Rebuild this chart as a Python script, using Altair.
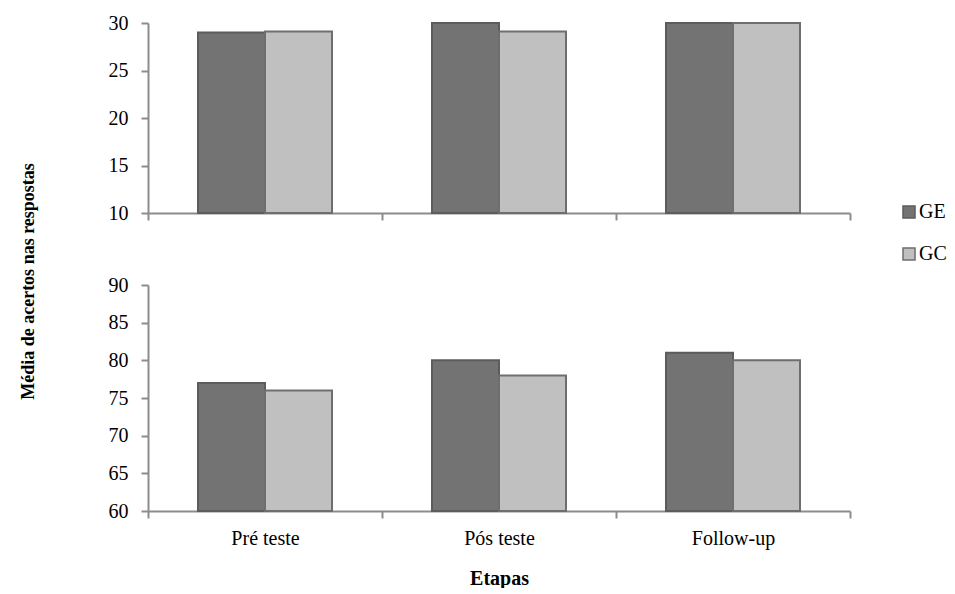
import altair as alt
import pandas as pd

etapas = ["Pré teste", "Pós teste", "Follow-up"]
grupos = ["GE", "GC"]
top_ge = [29, 30, 30]
top_gc = [29.1, 29.1, 30]
bot_ge = [77, 80, 81]
bot_gc = [76, 78, 80]

def make_df(ge, gc):
    rows = []
    for i, e in enumerate(etapas):
        rows.append({"Etapa": e, "Grupo": "GE", "valor": ge[i]})
        rows.append({"Etapa": e, "Grupo": "GC", "valor": gc[i]})
    return pd.DataFrame(rows)

df_top = make_df(top_ge, top_gc)
df_bot = make_df(bot_ge, bot_gc)

FONT = "Liberation Serif"
AX = "#8c8c8c"
FS = 20

color_scale = alt.Scale(domain=grupos, range=["#737373", "#c0c0c0"])
stroke_scale = alt.Scale(domain=grupos, range=["#5c5c5c", "#6e6e6e"])
xscale = alt.Scale(paddingInner=0, paddingOuter=0)
offscale = alt.Scale(paddingInner=0, paddingOuter=0.746)

def panel(df, dom, base, h, show_labels, show_legend, ytitle):
    x_axis = alt.Axis(
        title="Etapas" if show_labels else None,
        labels=show_labels, tickBand="extent", domainColor=AX, tickColor=AX,
        domainWidth=2, tickWidth=2, tickSize=7, labelFont=FONT, labelFontSize=FS,
        labelColor="black", labelPadding=10, titleFont=FONT, titleFontSize=FS,
        titleFontWeight="bold", titlePadding=20, labelAngle=0, titleColor="black",
    )
    y_kwargs = dict(
        values=list(range(dom[0], dom[1] + 1, 5)), domainColor=AX, tickColor=AX,
        domainWidth=2, tickWidth=2, tickSize=7, labelFont=FONT, labelFontSize=FS,
        labelColor="black", labelPadding=13, grid=False,
    )
    if ytitle:
        y_axis = alt.Axis(title="Média de acertos nas respostas", titleFont=FONT,
                          titleFontSize=18, titleFontWeight="bold", titleAngle=-90,
                          titleX=-120, titleY=258, titleAlign="center",
                          titleBaseline="middle", titleColor="black", **y_kwargs)
    else:
        y_axis = alt.Axis(title=None, **y_kwargs)
    legend = alt.Legend(
        title=None, orient="none", legendX=751, legendY=179, symbolType="square",
        symbolSize=144, labelFont=FONT, labelFontSize=FS, labelColor="black",
        rowPadding=22, symbolStrokeWidth=1.5, labelOffset=0,
    ) if show_legend else None
    return alt.Chart(df).mark_bar(strokeWidth=2).encode(
        x=alt.X("Etapa:N", sort=etapas, scale=xscale, axis=x_axis),
        xOffset=alt.XOffset("Grupo:N", sort=grupos, scale=offscale),
        y=alt.Y("valor:Q", scale=alt.Scale(domain=dom, zero=False, nice=False), axis=y_axis),
        y2=alt.datum(base),
        color=alt.Color("Grupo:N", sort=grupos, scale=color_scale, legend=legend),
        stroke=alt.Stroke("Grupo:N", sort=grupos, scale=stroke_scale, legend=None),
    ).properties(width=702, height=h)

top = panel(df_top, [10, 30], 10, 190, False, True, True)
bot = panel(df_bot, [60, 90], 60, 226, True, False, False)

chart = alt.vconcat(top, bot, spacing=72, bounds="flush").resolve_scale(
    y="independent", color="shared", stroke="shared"
).configure(
    background="white", padding={"left": 10, "top": 5, "right": 0, "bottom": 0}
).configure_view(stroke=None)

chart.save("out.html", embed_options={"renderer": "svg", "actions": False})
